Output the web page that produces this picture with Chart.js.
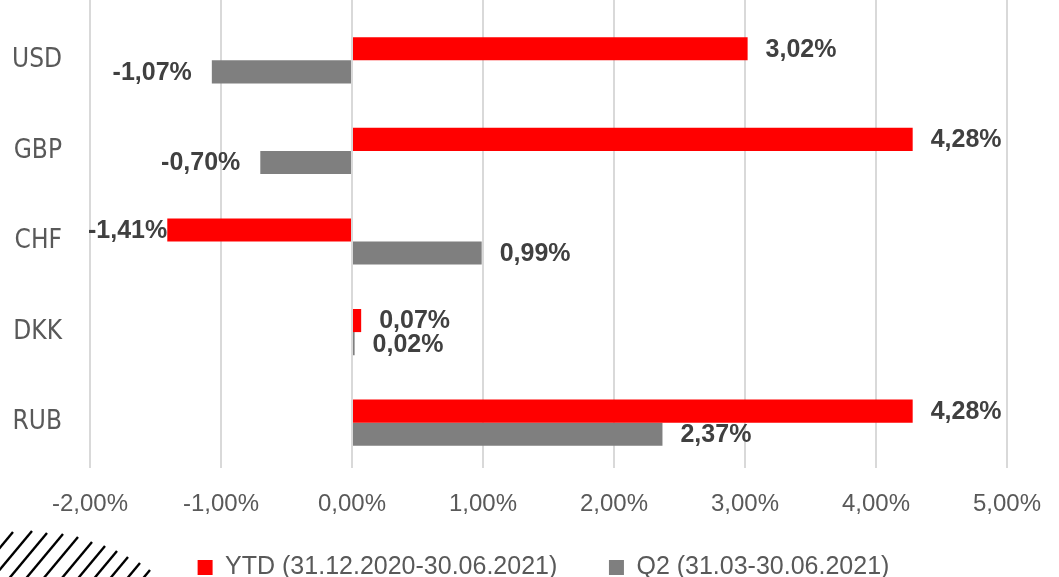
<!DOCTYPE html>
<html>
<head>
<meta charset="utf-8">
<script src="https://cdn.jsdelivr.net/npm/chart.js@4.4.1/dist/chart.umd.min.js"></script>
<style>
  html, body { margin: 0; padding: 0; background: #ffffff; overflow: hidden; }
  #wrap { width: 1059px; height: 590px; position: relative; }
</style>
</head>
<body>
<div id="wrap"><canvas id="fx" width="1059" height="590"></canvas></div>
<script>
// Currency performance against the base currency
const currencies = ['USD', 'GBP', 'CHF', 'DKK', 'RUB'];
const ytdValues = [3.02, 4.28, -1.41, 0.07, 4.28];
const q2Values = [-1.07, -0.70, 0.99, 0.02, 2.37];
const seriesNames = ['YTD (31.12.2020-30.06.2021)', 'Q2 (31.03-30.06.2021)'];
const axisMin = -2;
const axisMax = 5;
const axisStep = 1;

const FONT = '"Liberation Sans", Arial, sans-serif';
const NARROW = '"Liberation Sans Narrow", "DejaVu Sans Condensed", Roboto, sans-serif';
const TEXT_GREY = '#595959';
const LABEL_DARK = '#404040';
const GRID = '#d9d9d9';

const pct = v => v.toFixed(2).replace('.', ',') + '%';

// Grid lines continue above the plot area to the top edge
const gridTop = {
  id: 'gridTop',
  beforeDatasetsDraw(chart) {
    const xs = chart.scales.x;
    const ctx = chart.ctx;
    ctx.save();
    ctx.strokeStyle = GRID;
    ctx.lineWidth = 2;
    xs.ticks.forEach(t => {
      const px = Math.round(xs.getPixelForValue(t.value));
      ctx.beginPath();
      ctx.moveTo(px, 0);
      ctx.lineTo(px, chart.chartArea.top);
      ctx.stroke();
    });
    ctx.restore();
  }
};

// Value labels beside each bar end
const barValues = {
  id: 'barValues',
  afterDatasetsDraw(chart) {
    const ctx = chart.ctx;
    const area = chart.chartArea;
    ctx.save();
    ctx.font = 'bold 25px ' + FONT;
    ctx.fillStyle = LABEL_DARK;
    ctx.textBaseline = 'middle';
    ctx.textAlign = 'left';
    chart.data.datasets.forEach((ds, di) => {
      chart.getDatasetMeta(di).data.forEach((bar, i) => {
        const v = ds.data[i];
        const txt = pct(v);
        const w = ctx.measureText(txt).width;
        let left;
        if (v >= 0) {
          left = bar.x + 18;
        } else {
          left = bar.x - 20 - w;
          if (left < area.left - 2) left = area.left - 2;
        }
        ctx.fillText(txt, left, bar.y + 1);
      });
    });
    ctx.restore();
  }
};

// Decorative hatching in the lower left corner
const hatch = {
  id: 'hatch',
  afterDraw(chart) {
    const ctx = chart.ctx;
    const tops = [[13, 532], [32, 531], [47, 533], [63, 534], [78, 537], [92, 542],
                  [105, 546], [117, 551], [128, 557], [140, 563], [150, 570]];
    const slope = 1.2;
    ctx.save();
    ctx.strokeStyle = '#000000';
    ctx.lineWidth = 2.4;
    tops.forEach(([x, y]) => {
      const yEnd = 600;
      ctx.beginPath();
      ctx.moveTo(x, y);
      ctx.lineTo(x - (yEnd - y) / slope, yEnd);
      ctx.stroke();
    });
    ctx.restore();
  }
};

// Move the legend row to the right
const legendShift = {
  id: 'legendShift',
  afterLayout(chart) {
    if (chart.legend) {
      chart.legend.left += 40;
      chart.legend.right += 40;
    }
  }
};

new Chart(document.getElementById('fx'), {
  type: 'bar',
  data: {
    labels: currencies,
    datasets: [
      { label: seriesNames[0], data: ytdValues, backgroundColor: '#ff0000', borderWidth: 0 },
      { label: seriesNames[1], data: q2Values, backgroundColor: '#7f7f7f', borderWidth: 0 }
    ]
  },
  options: {
    indexAxis: 'y',
    responsive: false,
    animation: false,
    devicePixelRatio: 1,
    layout: { padding: { top: 15, right: 52, left: 0, bottom: 0 } },
    datasets: { bar: { categoryPercentage: 0.51, barPercentage: 1 } },
    scales: {
      x: {
        min: axisMin,
        max: axisMax,
        ticks: {
          stepSize: axisStep,
          callback: v => pct(v),
          font: { family: FONT, size: 24 },
          color: TEXT_GREY,
          padding: 22
        },
        grid: { color: GRID, lineWidth: 2, drawTicks: false },
        border: { display: false },
        afterFit(scale) {
          scale.height = 77;
          scale.paddingLeft = 0;
          scale.paddingRight = 0;
        }
      },
      y: {
        ticks: {
          font: { family: NARROW, size: 26 },
          color: TEXT_GREY,
          padding: 28
        },
        grid: { display: false, drawTicks: false },
        border: { display: false },
        afterFit(scale) {
          scale.width = 90;
          scale.paddingTop = 0;
          scale.paddingBottom = 0;
        }
      }
    },
    plugins: {
      tooltip: { enabled: false },
      legend: {
        position: 'bottom',
        labels: {
          font: { family: FONT, size: 25 },
          color: TEXT_GREY,
          boxWidth: 15,
          boxHeight: 15,
          padding: 10,
          generateLabels(chart) {
            const items = Chart.defaults.plugins.legend.labels.generateLabels(chart);
            items[0].text += '\u00a0'.repeat(6);
            return items;
          }
        }
      }
    }
  },
  plugins: [gridTop, barValues, hatch, legendShift]
});
</script>
</body>
</html>
